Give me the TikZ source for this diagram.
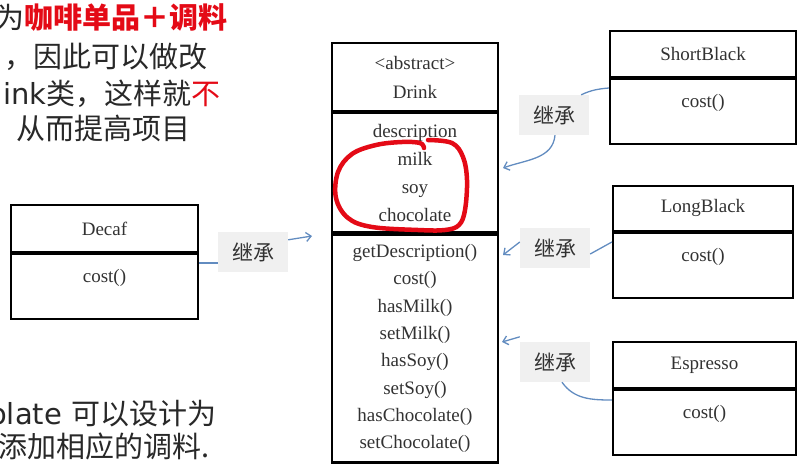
\documentclass[tikz,border=0pt]{standalone}
\usepackage{fontspec}
\setmainfont{Liberation Serif}
\newfontfamily\cjk{Noto Sans CJK SC}
\newfontfamily\latin{DejaVu Sans}
\usetikzlibrary{arrows.meta,positioning}
\definecolor{hired}{RGB}{228,10,22}
\definecolor{linkblue}{RGB}{98,140,192}
\definecolor{tagfill}{RGB}{240,240,240}
\definecolor{boxtext}{RGB}{50,50,50}
\definecolor{notetext}{RGB}{40,40,40}
\tikzset{
  classhead/.style={draw, line width=2.2, inner sep=0, text=boxtext, align=center, font=\fontsize{19}{29}\selectfont},
  classpart/.style={classhead, font=\fontsize{19}{28}\selectfont},
  classops/.style={draw, line width=2.2, inner sep=0, text=boxtext, anchor=north, text height=28, text depth=37, font=\fontsize{19}{19}\selectfont},
  tag/.style={fill=tagfill, minimum width=70, minimum height=40, inner sep=0, text=boxtext, font=\cjk\fontsize{21}{21}\selectfont},
  note/.style={anchor=west, inner sep=0, text=notetext, font=\cjk\fontsize{29}{29}\selectfont},
  link/.style={draw=linkblue, line width=1.3},
  redmark/.style={draw=hired, line width=4.5, line cap=round, line join=round}
}
\begin{document}
\begin{tikzpicture}[x=1pt,y=-1pt,>={Straight Barb[length=5pt,width=9pt]}]
\useasboundingbox (0,0) rectangle (804,464);
\clip (0,0) rectangle (804,464);
% cut-off notes on the left
\path
 +(-5,18)   node[note] (note1) {为{\color{hired}\bfseries 咖啡单品＋调料}}
 +(4,57)    node[note] (note2) {，因此可以做改}
 +(3,94)    node[note] (note3) {{\latin ink}类，这样就{\color{hired}不}}
 +(16,128)  node[note] (note4) {从而提高项目}
 +(-11,414) node[note] (note5) {{\latin olate }可以设计为}
 +(-2,446)  node[note] (note6) {添加相应的调料.}
 ;
% abstract class
\node[classhead, anchor=north, minimum width=166, minimum height=68] (drink) at (415,42) {\textless abstract\textgreater\\Drink};
\node[classpart, minimum width=166, minimum height=119, below=0pt of drink] (drinkfields) {description\\milk\\soy\\chocolate};
\node[classpart, minimum width=166, minimum height=228, below=0pt of drinkfields, font=\fontsize{19}{27.3}\selectfont] (drinkops)
 {getDescription()\\cost()\\hasMilk()\\setMilk()\\hasSoy()\\setSoy()\\hasChocolate()\\setChocolate()};
% sub classes
\path
 +(104.5,253) node[classops, minimum width=187] (decafops) {cost()}
 +(703,78)    node[classops, minimum width=186] (sbops) {cost()}
 +(703,232)   node[classops, minimum width=180] (lbops) {cost()}
 +(704.5,389) node[classops, minimum width=183] (esops) {cost()}
 ;
\node[classhead, minimum width=187, minimum height=47, above=0pt of decafops] (decaf) {Decaf};
\node[classhead, minimum width=186, minimum height=46, above=0pt of sbops] (sb) {ShortBlack};
\node[classhead, minimum width=180, minimum height=45, above=0pt of lbops] (lb) {LongBlack};
\node[classhead, minimum width=183, minimum height=46, above=0pt of esops] (es) {Espresso};
% inheritance tags
\path
 +(253,252) node[tag] (tagdecaf) {继承}
 +(554,115) node[tag] (tagsb) {继承}
 +(555,248) node[tag] (taglb) {继承}
 +(555,362) node[tag] (tages) {继承}
 ;
\coordinate (tipdecaf) at (312,236);
\coordinate (tipsb) at (503,168);
\coordinate (tiplb) at (503,255);
\coordinate (tipes) at (502,342);
\draw[link] ([yshift=-10]decafops.north east) -- ([yshift=-10]decafops.north east -| tagdecaf.west);
\draw[link,->] ([yshift=-8]tagdecaf.north east) -- (tipdecaf);
\draw[link] ([yshift=-10]sbops.north west) to[out=185,in=25] ([xshift=-8]tagsb.north east);
\draw[link,->] ([xshift=1]tagsb.south) to[out=-95,in=20] (tipsb);
\draw[link] ([yshift=-10]lbops.north west) -- ([yshift=-6]taglb.east);
\draw[link,->] ([yshift=6]taglb.west) -- (tiplb);
\draw[link] ([yshift=-11]esops.north west) to[out=180,in=-55] ([xshift=7]tages.south);
\draw[link,->] ([yshift=5]tages.north west) -- (tipes);
% red freehand loop round the condiments
\draw[redmark] plot[smooth, tension=0.6] coordinates {(428,140) (452,143) (463,157) (467,180) (465,210) (459,225) (445,230) (418,230) (372,227) (348,218) (336,198) (338,172) (352,154) (376,145) (402,142) (420,143) (424,148)};
\end{tikzpicture}
\end{document}
